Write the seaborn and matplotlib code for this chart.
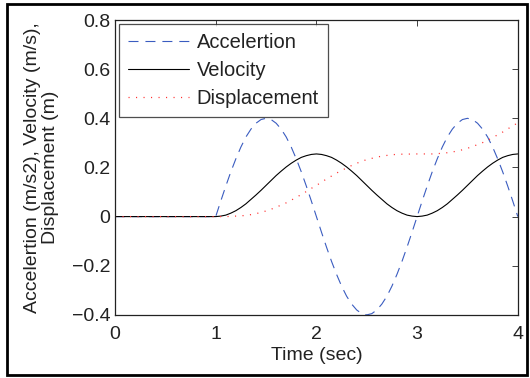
import matplotlib
matplotlib.use("Agg")
import matplotlib.pyplot as plt
import pandas as pd
import seaborn as sns
from matplotlib.patches import Rectangle

# time samples (s)
time = [0.0, 0.5, 1.0,
        1.05, 1.1, 1.15, 1.2, 1.25, 1.3, 1.35, 1.4, 1.45, 1.5,
        1.55, 1.6, 1.65, 1.7, 1.75, 1.8, 1.85, 1.9, 1.95, 2.0,
        2.05, 2.1, 2.15, 2.2, 2.25, 2.3, 2.35, 2.4, 2.45, 2.5,
        2.55, 2.6, 2.65, 2.7, 2.75, 2.8, 2.85, 2.9, 2.95, 3.0,
        3.05, 3.1, 3.15, 3.2, 3.25, 3.3, 3.35, 3.4, 3.45, 3.5,
        3.55, 3.6, 3.65, 3.7, 3.75, 3.8, 3.85, 3.9, 3.95, 4.0]

acceleration = [0.0, 0.0, 0.0,
                0.063, 0.124, 0.182, 0.235, 0.283, 0.324, 0.356, 0.380, 0.395, 0.400,
                0.395, 0.380, 0.356, 0.324, 0.283, 0.235, 0.182, 0.124, 0.063, 0.0,
                -0.063, -0.124, -0.182, -0.235, -0.283, -0.324, -0.356, -0.380, -0.395, -0.400,
                -0.395, -0.380, -0.356, -0.324, -0.283, -0.235, -0.182, -0.124, -0.063, 0.0,
                0.063, 0.124, 0.182, 0.235, 0.283, 0.324, 0.356, 0.380, 0.395, 0.400,
                0.395, 0.380, 0.356, 0.324, 0.283, 0.235, 0.182, 0.124, 0.063, 0.0]

velocity = [0.0, 0.0, 0.0,
            0.002, 0.006, 0.014, 0.024, 0.037, 0.052, 0.070, 0.088, 0.107, 0.127,
            0.147, 0.167, 0.185, 0.202, 0.217, 0.230, 0.241, 0.248, 0.253, 0.255,
            0.253, 0.248, 0.241, 0.230, 0.217, 0.202, 0.185, 0.167, 0.147, 0.127,
            0.107, 0.088, 0.070, 0.052, 0.037, 0.024, 0.014, 0.006, 0.002, 0.0,
            0.002, 0.006, 0.014, 0.024, 0.037, 0.052, 0.070, 0.088, 0.107, 0.127,
            0.147, 0.167, 0.185, 0.202, 0.217, 0.230, 0.241, 0.248, 0.253, 0.255]

displacement = [0.0, 0.0, 0.0,
                0.000, 0.000, 0.001, 0.002, 0.003, 0.005, 0.008, 0.012, 0.017, 0.023,
                0.030, 0.038, 0.047, 0.056, 0.067, 0.078, 0.090, 0.102, 0.115, 0.127,
                0.140, 0.153, 0.165, 0.177, 0.188, 0.198, 0.208, 0.217, 0.225, 0.232,
                0.237, 0.242, 0.246, 0.249, 0.252, 0.253, 0.254, 0.254, 0.255, 0.255,
                0.255, 0.255, 0.255, 0.256, 0.258, 0.260, 0.263, 0.267, 0.272, 0.278,
                0.285, 0.293, 0.301, 0.311, 0.321, 0.333, 0.344, 0.357, 0.369, 0.382]

x_ticks = [0, 1, 2, 3, 4]
y_ticks = [-0.4, -0.2, 0, 0.2, 0.4, 0.6, 0.8]
y_tick_labels = ["\u22120.4", "\u22120.2", "0", "0.2", "0.4", "0.6", "0.8"]

sns.set_style("white")
plt.rcParams["font.family"] = ["Liberation Sans", "DejaVu Sans"]
plt.rcParams["lines.scale_dashes"] = False

df = pd.DataFrame({
    "time": time,
    "acc": acceleration,
    "vel": velocity,
    "disp": displacement,
})

fig = plt.figure(figsize=(5.3, 3.78), dpi=100)
ax = fig.add_axes([0.217, 0.167, 0.760, 0.780])

sns.lineplot(data=df, x="time", y="acc", ax=ax, color="#3a5cc0", lw=0.8,
             linestyle=(0, (7.2, 5.0)), label="Accelertion")
sns.lineplot(data=df, x="time", y="vel", ax=ax, color="black", lw=0.8,
             label="Velocity")
sns.lineplot(data=df, x="time", y="disp", ax=ax, color="#ff3030", lw=0.9,
             linestyle=(0, (0.8, 4.6)), label="Displacement")

ax.set_xlim(0, 4)
ax.set_ylim(-0.4, 0.8)
ax.set_xticks(x_ticks)
ax.set_xticklabels([str(t) for t in x_ticks])
ax.set_yticks(y_ticks)
ax.set_yticklabels(y_tick_labels)
ax.tick_params(direction="in", length=4, width=0.6, top=True, right=True,
               labelsize=14, colors="#222222", labelcolor="#222222")
ax.tick_params(axis="x", pad=8)
for side in ["top", "right", "bottom", "left"]:
    ax.spines[side].set_color("#222222")
    ax.spines[side].set_linewidth(0.9)
    ax.spines[side].set_visible(True)

ax.set_xlabel("Time (sec)", fontsize=14, color="#222222", labelpad=3)
ax.set_ylabel("Accelertion (m/s2), Velocity (m/s),\nDisplacement (m)",
              fontsize=14, color="#222222", labelpad=9, linespacing=1.05)

leg = ax.legend(loc="upper left", fontsize=14.5, handlelength=3.0,
                frameon=True, fancybox=False, borderaxespad=0.2,
                borderpad=0.45, labelspacing=0.45, handletextpad=0.4)
leg.get_frame().set_edgecolor("#222222")
leg.get_frame().set_linewidth(0.9)
for txt in leg.get_texts():
    txt.set_color("#222222")

# outer frame around the whole figure
fig.patches.append(Rectangle((7 / 530, 3 / 378), 520 / 530, 371 / 378,
                             transform=fig.transFigure, fill=False,
                             edgecolor="black", linewidth=2.0))

fig.savefig("out.png", dpi=100)
